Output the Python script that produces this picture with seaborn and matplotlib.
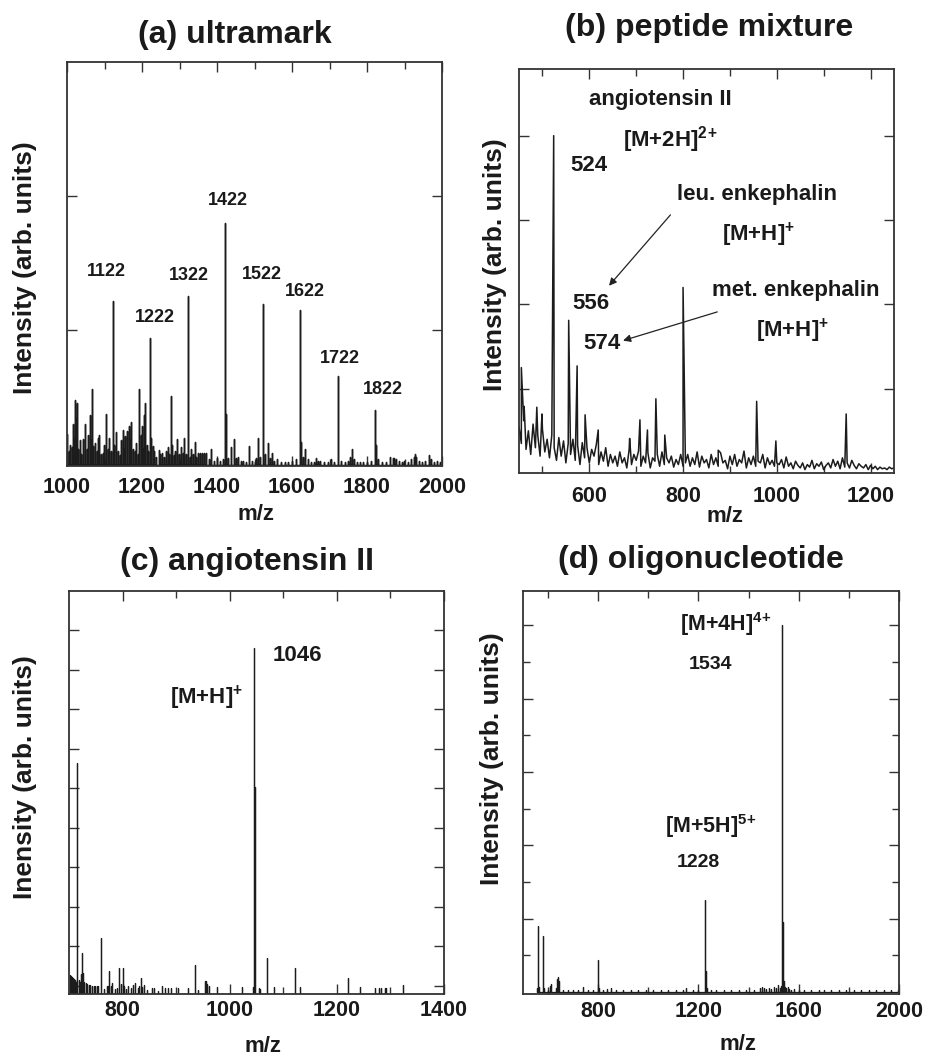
import numpy as np
import pandas as pd
import matplotlib
matplotlib.use("Agg")
import matplotlib.pyplot as plt
import seaborn as sns

# ---------------- data ----------------
# (a) ultramark: stick spectrum (m/z, intensity)
a_main_mz = [1122, 1222, 1322, 1422, 1522, 1622, 1722, 1822]
a_main_int = [1.22, 0.94, 1.26, 1.80, 1.20, 1.15, 0.66, 0.41]
a_minor_mz = [1001, 1004, 1008, 1012, 1016, 1019, 1021, 1024, 1027, 1030,
              1034, 1038, 1043, 1048, 1052, 1056, 1060, 1063, 1066, 1070,
              1075, 1079, 1083, 1086, 1090, 1095, 1099, 1104, 1108, 1112,
              1116, 1123, 1126, 1130, 1135, 1140, 1144, 1148, 1152, 1155,
              1160, 1164, 1168, 1171, 1175, 1180, 1185, 1189, 1193, 1196,
              1199, 1203, 1206, 1208, 1212, 1216, 1223, 1228, 1233, 1238,
              1244, 1248, 1253, 1258, 1263, 1268, 1272, 1277, 1280, 1285,
              1289, 1293, 1298, 1304, 1308, 1313, 1318, 1323, 1327, 1331,
              1335, 1340, 1345, 1350, 1355, 1360, 1365, 1370, 1378, 1385,
              1392, 1399, 1408, 1415, 1423, 1429, 1436, 1444, 1450, 1456,
              1463, 1469, 1478, 1485, 1493, 1500, 1505, 1509, 1515, 1523,
              1528, 1535, 1540, 1546, 1553, 1561, 1570, 1580, 1590, 1600,
              1610, 1623, 1628, 1635, 1642, 1650, 1658, 1664, 1669, 1675,
              1685, 1695, 1705, 1712, 1723, 1730, 1740, 1748, 1755, 1760,
              1765, 1772, 1780, 1790, 1800, 1810, 1823, 1830, 1840, 1850,
              1862, 1868, 1872, 1878, 1884, 1892, 1899, 1908, 1916, 1924,
              1928, 1931, 1938, 1946, 1955, 1964, 1970, 1978, 1986, 1994]
a_minor_int = [0.23, 0.10, 0.15, 0.13, 0.30, 0.20, 0.48, 0.35, 0.46, 0.12,
               0.18, 0.08, 0.19, 0.30, 0.12, 0.22, 0.37, 0.18, 0.56, 0.14,
               0.16, 0.10, 0.20, 0.22, 0.08, 0.09, 0.15, 0.38, 0.12, 0.20,
               0.10, 0.25, 0.15, 0.24, 0.10, 0.07, 0.18, 0.26, 0.12, 0.21,
               0.25, 0.29, 0.18, 0.32, 0.12, 0.10, 0.16, 0.08, 0.56, 0.22,
               0.29, 0.12, 0.37, 0.46, 0.15, 0.10, 0.20, 0.14, 0.10, 0.06,
               0.11, 0.08, 0.09, 0.06, 0.10, 0.13, 0.08, 0.51, 0.15, 0.07,
               0.10, 0.19, 0.08, 0.13, 0.09, 0.20, 0.08, 0.18, 0.06, 0.12,
               0.08, 0.17, 0.06, 0.09, 0.09, 0.09, 0.09, 0.09, 0.04, 0.12,
               0.03, 0.05, 0.03, 0.04, 0.38, 0.05, 0.13, 0.19, 0.05, 0.06,
               0.03, 0.03, 0.02, 0.14, 0.03, 0.02, 0.05, 0.20, 0.06, 0.22,
               0.08, 0.16, 0.05, 0.09, 0.03, 0.04, 0.02, 0.02, 0.02, 0.03,
               0.04, 0.17, 0.06, 0.12, 0.04, 0.02, 0.02, 0.05, 0.03, 0.03,
               0.02, 0.02, 0.04, 0.02, 0.10, 0.03, 0.02, 0.03, 0.06, 0.12,
               0.04, 0.02, 0.02, 0.02, 0.02, 0.03, 0.15, 0.04, 0.02, 0.02,
               0.06, 0.05, 0.05, 0.04, 0.03, 0.02, 0.03, 0.02, 0.04, 0.06,
               0.08, 0.06, 0.03, 0.02, 0.03, 0.07, 0.04, 0.02, 0.03, 0.02]
a_labels = ["1122", "1222", "1322", "1422", "1522", "1622", "1722", "1822"]

# (b) peptide mixture: continuous trace = noise grid (every 5 m/z from 450) + peaks
b_noise_start, b_noise_step = 450, 5
b_noise = [0.55, 0.35, 0.62, 0.28, 0.50, 0.22, 0.58, 0.30, 0.45, 0.20, 0.52, 0.25, 0.40, 0.18, 0.45,
           0.30, 0.15, 0.42, 0.20, 0.38, 0.12, 0.35, 0.22, 0.40, 0.15, 0.33, 0.10, 0.36, 0.18, 0.30,
           0.12, 0.28, 0.20, 0.34, 0.10, 0.25, 0.14, 0.30, 0.08, 0.22, 0.12,
           0.20, 0.08, 0.25, 0.12, 0.18, 0.06, 0.28, 0.10, 0.22, 0.15, 0.26, 0.08, 0.20, 0.12, 0.24,
           0.06, 0.18, 0.14, 0.22, 0.08, 0.25, 0.10, 0.18, 0.12, 0.20, 0.07, 0.16, 0.10, 0.22, 0.08,
           0.12, 0.22, 0.08, 0.18, 0.10, 0.25, 0.07, 0.20, 0.12, 0.16, 0.06, 0.22, 0.10, 0.18, 0.08,
           0.24, 0.12, 0.15, 0.05, 0.20, 0.10, 0.22, 0.08, 0.16, 0.12, 0.26, 0.06, 0.18, 0.10, 0.20,
           0.08, 0.14, 0.12, 0.22, 0.06, 0.18, 0.10, 0.15, 0.08, 0.12,
           0.10, 0.16, 0.06, 0.19, 0.08, 0.12, 0.05, 0.14, 0.09, 0.06, 0.12, 0.04, 0.10, 0.07, 0.15,
           0.05, 0.11, 0.08, 0.13, 0.04, 0.09, 0.12, 0.06, 0.16, 0.08, 0.14, 0.05, 0.18, 0.07, 0.12,
           0.06, 0.15, 0.09, 0.05, 0.11, 0.08, 0.06, 0.10, 0.04, 0.09, 0.05, 0.08, 0.04, 0.07, 0.05,
           0.06, 0.04, 0.07, 0.05, 0.06]
b_peak_mz = [455, 461, 488, 499, 524, 556, 574, 591, 619, 686, 708, 724, 742, 761,
             800, 875, 957, 998, 1148]
b_peak_int = [1.25, 0.79, 0.78, 0.70, 4.00, 1.81, 1.27, 0.69, 0.51, 0.41, 0.63, 0.51, 0.88, 0.45,
              2.20, 0.27, 0.85, 0.38, 0.70]

# (c) angiotensin II: stick spectrum
c_mz = [701, 703, 705, 707, 709, 711, 713, 715, 718, 720,
        722, 724, 726, 728, 731, 734, 737, 740, 743, 746,
        749, 752, 755, 760, 765, 770, 773, 775, 778, 780,
        785, 790, 794, 797, 801, 803, 806, 810, 815, 819,
        824, 828, 831, 834, 837, 840, 845, 854, 858, 866,
        873, 879, 885, 891, 904, 923, 936, 940, 953, 956,
        958, 961, 976, 1022, 1043, 1045, 1046, 1047, 1048, 1054,
        1056, 1069, 1083, 1122, 1131, 1221, 1244, 1271, 1278, 1282,
        1289, 1292, 1323]
c_int = [0.48, 0.45, 0.42, 0.40, 0.38, 0.36, 0.30, 5.84, 0.35, 0.30,
         0.50, 1.03, 0.52, 0.30, 0.27, 0.25, 0.22, 0.22, 0.20, 0.20,
         0.20, 0.20, 0.20, 1.43, 0.12, 0.20, 0.20, 0.58, 0.20, 0.27,
         0.12, 0.14, 0.67, 0.25, 0.65, 0.20, 0.12, 0.20, 0.14, 0.23,
         0.29, 0.15, 0.20, 0.41, 0.18, 0.23, 0.10, 0.16, 0.16, 0.08,
         0.20, 0.16, 0.16, 0.16, 0.14, 0.16, 0.73, 0.10, 0.33, 0.33,
         0.25, 0.20, 0.18, 0.18, 0.18, 0.20, 8.75, 5.25, 1.40, 0.14,
         0.12, 0.92, 0.18, 0.67, 0.17, 0.41, 0.17, 0.15, 0.16, 0.16,
         0.15, 0.15, 0.23]

# (d) oligonucleotide: stick spectrum
d_mz = [555, 561, 565, 581, 585, 600, 608, 612, 630, 636,
        639, 642, 645, 660, 680, 700, 720, 741, 760, 780,
        801, 804, 820, 834, 850, 870, 900, 930, 960, 990,
        1020, 1050, 1080, 1110, 1140, 1150, 1180, 1200, 1226, 1228,
        1229, 1231, 1234, 1250, 1270, 1300, 1330, 1360, 1390, 1420,
        1445, 1452, 1460, 1470, 1480, 1490, 1500, 1510, 1517, 1525,
        1530, 1534, 1535, 1536, 1537, 1538, 1540, 1542, 1545, 1550,
        1556, 1562, 1570, 1580, 1600, 1620, 1650, 1680, 1700, 1730,
        1760, 1790, 1820, 1850, 1880, 1910, 1940, 1970, 1995]
d_int = [0.05, 0.90, 0.06, 0.76, 0.05, 0.03, 0.08, 0.10, 0.05, 0.18,
         0.20, 0.15, 0.10, 0.03, 0.02, 0.03, 0.02, 0.06, 0.03, 0.02,
         0.43, 0.05, 0.03, 0.04, 0.05, 0.02, 0.02, 0.02, 0.03, 0.02,
         0.02, 0.02, 0.02, 0.03, 0.02, 0.05, 0.02, 0.02, 0.05, 1.25,
         0.28, 0.12, 0.05, 0.03, 0.02, 0.02, 0.03, 0.02, 0.02, 0.03,
         0.05, 0.06, 0.05, 0.04, 0.05, 0.04, 0.06, 0.05, 0.09, 0.05,
         0.08, 5.00, 1.00, 0.95, 0.60, 0.45, 0.15, 0.10, 0.07, 0.05,
         0.06, 0.04, 0.03, 0.04, 0.02, 0.03, 0.02, 0.03, 0.02, 0.02,
         0.03, 0.02, 0.02, 0.03, 0.02, 0.02, 0.03, 0.02, 0.02]

assert len(a_minor_mz) == len(a_minor_int)
assert len(c_mz) == len(c_int)
assert len(d_mz) == len(d_int)
assert len(b_noise) == 161

# ---------------- style ----------------
sns.set_style("ticks")
plt.rcParams.update({
    "font.family": ["Liberation Sans", "DejaVu Sans"],
    "font.weight": "bold",
    "mathtext.fontset": "custom",
    "mathtext.rm": "Liberation Sans:bold",
    "mathtext.bf": "Liberation Sans:bold",
    "xtick.direction": "in", "ytick.direction": "in",
    "xtick.top": True, "ytick.right": True,
    "xtick.major.size": 7, "ytick.major.size": 7,
    "xtick.minor.size": 5, "ytick.minor.size": 5,
    "xtick.major.width": 1.0, "ytick.major.width": 1.0,
    "xtick.minor.width": 1.0, "ytick.minor.width": 1.0,
    "axes.linewidth": 1.3,
    "axes.edgecolor": "#333333",
    "xtick.color": "#333333", "ytick.color": "#333333",
    "xtick.labelcolor": "#1a1a1a",
})

W, H = 925, 1060
fig = plt.figure(figsize=(W / 100, H / 100), dpi=100)


def add_ax(left, top, right, bottom):
    return fig.add_axes([left / W, 1 - bottom / H, (right - left) / W, (bottom - top) / H])


def sticks(mz, inten):
    order = np.argsort(mz)
    xs, ys = [], []
    for i in order:
        xs += [mz[i], mz[i], mz[i]]
        ys += [0.0, inten[i], 0.0]
    return pd.DataFrame({"mz": xs, "intensity": ys})


LC = "#1c1c1c"
TXT = "#1a1a1a"

# ---------------- (a) ----------------
ax = add_ax(67, 62, 442, 466)
df_a = sticks(a_main_mz + a_minor_mz, a_main_int + a_minor_int)
sns.lineplot(data=df_a, x="mz", y="intensity", sort=False, estimator=None,
             ax=ax, color=LC, lw=1.05)
ax.set_xlim(1000, 2000)
ax.set_ylim(-0.01, 3.0)
ax.set_xticks([1000, 1200, 1400, 1600, 1800, 2000])
ax.set_xticks(np.arange(1100, 2000, 200), minor=True)
ax.set_yticks([1, 2])
ax.tick_params(axis="y", labelleft=False)
ax.tick_params(axis="x", labelsize=15.5, pad=8)
a_lab_x = [1106, 1235, 1325, 1429, 1520, 1635, 1728, 1843]
a_lab_y = [1.44, 1.10, 1.41, 1.97, 1.42, 1.29, 0.79, 0.56]
for t, x, y in zip(a_labels, a_lab_x, a_lab_y):
    ax.text(x, y, t, ha="center", va="center", fontsize=13, weight="bold", color=TXT)

# ---------------- (b) ----------------
ax = add_ax(519, 69, 894, 473)
b_noise_mz = [b_noise_start + b_noise_step * i for i in range(len(b_noise))]
df_b = pd.DataFrame({"mz": b_noise_mz + b_peak_mz, "intensity": b_noise + b_peak_int})
df_b = df_b.sort_values("mz", kind="stable")
sns.lineplot(data=df_b, x="mz", y="intensity", sort=False, estimator=None,
             ax=ax, color=LC, lw=1.1)
ax.set_xlim(450, 1250)
ax.set_ylim(0, 4.79)
ax.set_xticks([600, 800, 1000, 1200])
ax.set_xticks([500, 700, 900, 1100], minor=True)
ax.set_yticks([1, 2, 3, 4])
ax.tick_params(axis="y", labelleft=False)
ax.tick_params(axis="x", labelsize=15.5, pad=9)
fs_b = 16
ax.text(752, 4.43, "angiotensin II", ha="center", va="center", fontsize=fs_b, weight="bold", color=TXT)
ax.text(774, 3.95, r"[M+2H]$^{2}$$^{+}$", ha="center", va="center", fontsize=fs_b, weight="bold", color=TXT)
ax.text(600, 3.65, "524", ha="center", va="center", fontsize=fs_b, weight="bold", color=TXT)
ax.text(958, 3.30, "leu. enkephalin", ha="center", va="center", fontsize=fs_b, weight="bold", color=TXT)
ax.text(961, 2.82, r"[M+H]$^{+}$", ha="center", va="center", fontsize=fs_b, weight="bold", color=TXT)
ax.text(603, 2.01, "556", ha="center", va="center", fontsize=fs_b, weight="bold", color=TXT)
ax.text(1040, 2.16, "met. enkephalin", ha="center", va="center", fontsize=fs_b, weight="bold", color=TXT)
ax.text(1033, 1.68, r"[M+H]$^{+}$", ha="center", va="center", fontsize=fs_b, weight="bold", color=TXT)
ax.text(626, 1.54, "574", ha="center", va="center", fontsize=fs_b, weight="bold", color=TXT)
arrow = dict(arrowstyle="-|>", color="#222222", lw=0.9, mutation_scale=11, shrinkA=0, shrinkB=0)
ax.annotate("", xy=(642, 2.22), xytext=(773, 3.06), arrowprops=arrow)
ax.annotate("", xy=(672, 1.57), xytext=(873, 1.91), arrowprops=arrow)

# ---------------- (c) ----------------
ax = add_ax(69, 591, 444, 994)
df_c = sticks(c_mz, c_int)
sns.lineplot(data=df_c, x="mz", y="intensity", sort=False, estimator=None,
             ax=ax, color=LC, lw=0.9)
ax.set_xlim(700, 1400)
ax.set_ylim(0, 10.2)
ax.set_xticks([800, 1000, 1200, 1400])
ax.set_xticks([900, 1100, 1300], minor=True)
ax.set_yticks(np.arange(0.21, 9.5, 1.0))
ax.tick_params(axis="y", labelleft=False)
ax.tick_params(axis="x", labelsize=15.5, pad=4)
ax.text(1127, 8.56, "1046", ha="center", va="center", fontsize=16, weight="bold", color=TXT)
ax.text(957, 7.50, r"[M+H]$^{+}$", ha="center", va="center", fontsize=16, weight="bold", color=TXT)

# ---------------- (d) ----------------
ax = add_ax(523, 591, 899, 994)
df_d = sticks(d_mz, d_int)
sns.lineplot(data=df_d, x="mz", y="intensity", sort=False, estimator=None,
             ax=ax, color=LC, lw=0.9)
ax.set_xlim(500, 2000)
ax.set_ylim(-0.03, 5.47)
ax.set_xticks([800, 1200, 1600, 2000])
ax.set_xticks([600, 1000, 1400, 1800], minor=True)
ax.set_yticks([1, 2, 3, 4, 5])
ax.set_yticks([0.5, 1.5, 2.5, 3.5, 4.5], minor=True)
ax.tick_params(axis="y", which="both", labelleft=False)
ax.tick_params(axis="x", labelsize=15.5, pad=5)
ax.text(1310, 5.02, r"[M+4H]$^{4}$$^{+}$", ha="center", va="center", fontsize=15.5, weight="bold", color=TXT)
ax.text(1248, 4.47, "1534", ha="center", va="center", fontsize=14, weight="bold", color=TXT)
ax.text(1249, 2.26, r"[M+5H]$^{5}$$^{+}$", ha="center", va="center", fontsize=15.5, weight="bold", color=TXT)
ax.text(1201, 1.76, "1228", ha="center", va="center", fontsize=14, weight="bold", color=TXT)

for a in fig.axes:
    a.set_xlabel("")
    a.set_ylabel("")
    for s in a.spines.values():
        s.set_visible(True)

# ---------------- titles & axis labels ----------------
def ftext(x, y, s, **kw):
    fig.text(x / W, 1 - y / H, s, ha="center", va="center", weight="bold", color=TXT, **kw)

ftext(235, 35, "(a) ultramark", fontsize=23)
ftext(709, 28, "(b) peptide mixture", fontsize=23)
ftext(247, 562, "(c) angiotensin II", fontsize=23)
ftext(701, 560, "(d) oligonucleotide", fontsize=23)

ftext(25, 268, "Intensity (arb. units)", fontsize=19, rotation=90)
ftext(495, 265, "Intensity (arb. units)", fontsize=19, rotation=90)
ftext(25, 777, "Inensity (arb. units)", fontsize=19, rotation=90)
ftext(492, 759, "Intensity (arb. units)", fontsize=19, rotation=90)

ftext(256, 514, "m/z", fontsize=16)
ftext(725, 517, "m/z", fontsize=16)
ftext(263, 1046, "m/z", fontsize=16)
ftext(738, 1045, "m/z", fontsize=16)

fig.savefig("out.png", dpi=100, facecolor="white")
